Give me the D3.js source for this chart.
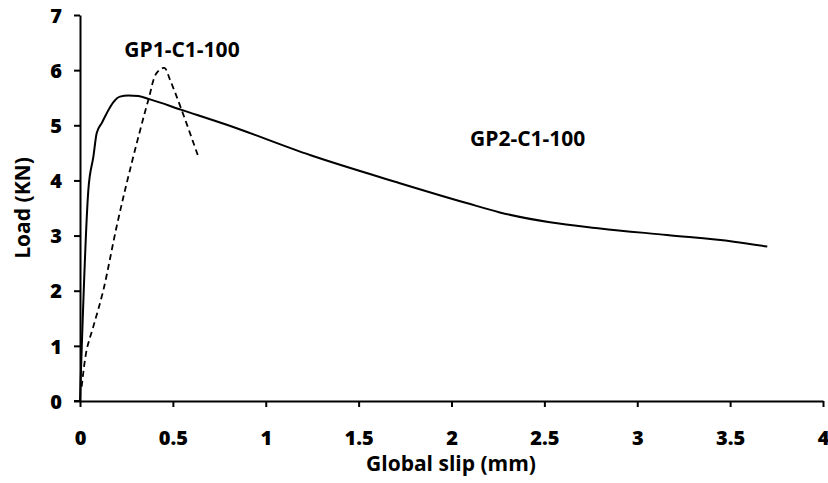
<!DOCTYPE html>
<html><head><meta charset="utf-8">
<script src="https://cdn.jsdelivr.net/npm/d3@7"></script>
<style>body{margin:0;background:#fff}text{font-family:"Open Sans",sans-serif;font-weight:700;fill:#000}</style>
</head><body>
<svg id="c" width="828" height="483"></svg>
<script>
const xTicks = [0, 0.5, 1, 1.5, 2, 2.5, 3, 3.5, 4];
const yTicks = [0, 1, 2, 3, 4, 5, 6, 7];
const gp2Slip = [0, 0.045, 0.072, 0.09, 0.117, 0.144, 0.18, 0.215, 0.26, 0.314, 0.377, 0.547, 0.79, 1.238, 1.722, 2.081, 2.26, 2.53, 2.80, 3.16, 3.52, 3.70];
const gp2Load = [0, 3.83, 4.43, 4.86, 5.04, 5.22, 5.42, 5.52, 5.54, 5.53, 5.47, 5.28, 5.01, 4.46, 3.95, 3.59, 3.42, 3.24, 3.13, 3.01, 2.89, 2.80];
const gp1Slip = [0.009, 0.036, 0.07, 0.125, 0.197, 0.269, 0.368, 0.413, 0.454, 0.484, 0.547, 0.637];
const gp1Load = [0.26, 0.93, 1.33, 2.0, 3.16, 4.19, 5.46, 5.95, 6.04, 5.83, 5.28, 4.43];
const labels = [{t:"GP1-C1-100", x:0.549, y:6.24}, {t:"GP2-C1-100", x:2.41, y:4.62}];

const svg = d3.select("#c");
const x = d3.scaleLinear().domain([0, 4]).range([80, 823]);
const y = d3.scaleLinear().domain([0, 7]).range([401, 15]);

const xa = svg.append("g").attr("transform", "translate(0,401)")
  .call(d3.axisBottom(x).tickValues(xTicks).tickFormat(d => d).tickSize(6).tickSizeOuter(0));
const ya = svg.append("g").attr("transform", "translate(80,0)")
  .call(d3.axisLeft(y).tickValues(yTicks).tickFormat(d => d).tickSize(6).tickSizeOuter(0));
[xa, ya].forEach(a => {
  a.attr("font-family", null).attr("font-size", null);
  a.selectAll("path,line").attr("stroke", "#000").attr("stroke-width", 2);
  a.selectAll("text").attr("font-size", "20px").attr("font-weight", "800").style("font-weight", "800").attr("fill", "#000");
});
xa.selectAll("text").attr("y", 0).attr("dy", 0).attr("transform", "translate(0,44)");
ya.selectAll("text").attr("x", -18).attr("dy", "0.36em");
svg.append("line").attr("x1", 74).attr("x2", 80).attr("y1", 401).attr("y2", 401).attr("stroke", "#000").attr("stroke-width", 2);

const line = d3.line().x(d => x(d[0])).y(d => y(d[1])).curve(d3.curveMonotoneX);
svg.append("path").datum(gp2Slip.map((s, i) => [s, gp2Load[i]]))
  .attr("d", line).attr("fill", "none").attr("stroke", "#000").attr("stroke-width", 2);
const line2 = d3.line().x(d => x(d[0])).y(d => y(d[1])).curve(d3.curveCatmullRom);
svg.append("path").datum(gp1Slip.map((s, i) => [s, gp1Load[i]]))
  .attr("d", line2).attr("fill", "none").attr("stroke", "#000").attr("stroke-width", 1.8).attr("stroke-dasharray", "6,4");

labels.forEach(l => svg.append("text").attr("x", x(l.x)).attr("y", y(l.y)).attr("text-anchor", "middle")
  .style("font-size", "21px").text(l.t));

svg.append("text").attr("x", 451).attr("y", 471).attr("text-anchor", "middle").style("font-size", "21px").text("Global slip (mm)");
svg.append("text").attr("transform", "translate(30,208) rotate(-90)").attr("text-anchor", "middle").style("font-size", "21px").text("Load (KN)");
</script>
</body></html>
